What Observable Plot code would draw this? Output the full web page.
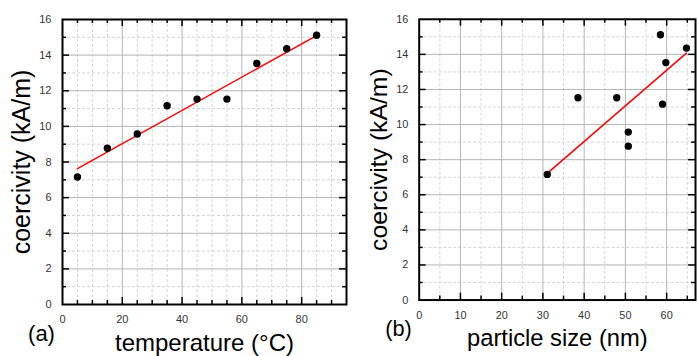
<!DOCTYPE html>
<html>
<head>
<meta charset="utf-8">
<script src="https://cdn.jsdelivr.net/npm/d3@7"></script>
<script src="https://cdn.jsdelivr.net/npm/@observablehq/plot@0.6"></script>
<style>
  html, body { margin: 0; padding: 0; background: #fff; overflow: hidden; }
  #wrap { position: relative; width: 697px; height: 356px; overflow: hidden; }
  #wrap > div { position: absolute; top: 0; }
</style>
</head>
<body>
<div id="wrap"><div id="pa" style="left:0"></div><div id="pb" style="left:349px"></div></div>
<script>
// ---- data ----
const temperature = [5, 15, 25, 35, 45, 55, 65, 75, 85];
const coercivity = [7.16, 8.77, 9.57, 11.16, 11.53, 11.53, 13.53, 14.36, 15.12];
const particleSize = [31.05, 50.7, 50.7, 59.0, 38.5, 47.9, 59.8, 64.8, 58.5];

// fitted lines (endpoints)
const fitTempX = [5, 85];
const fitTempY = [7.63, 15.1];
const fitSizeX = [31.05, 64.8];
const fitSizeY = [7.22, 14.07];

// ticks
const yMajor = [0, 2, 4, 6, 8, 10, 12, 14, 16];
const yGridMajor = [2, 4, 6, 8, 10, 12, 14];
const yMinor = [1, 3, 5, 7, 9, 11, 13, 15];
const xMajorA = [0, 20, 40, 60, 80];
const xGridMajorA = [20, 40, 60, 80];
const xMinorA = [5, 10, 15, 25, 30, 35, 45, 50, 55, 65, 70, 75, 85, 90];
const xMajorB = [0, 10, 20, 30, 40, 50, 60];
const xGridMajorB = [10, 20, 30, 40, 50, 60];
const xMinorB = [5, 15, 25, 35, 45, 55, 65];

const yLabel = "coercivity (kA/m)";
const xLabelA = "temperature (°C)";
const xLabelB = "particle size (nm)";

const FONT = "'Liberation Sans', Arial, Helvetica, sans-serif";

function panel({width, height, mL, mR, mT, mB, xDomain, xMajor, xGridMajor, xMinor, xs, fitX, fitY, xLabel, tag}) {
  const W = width - mL - mR, H = height - mT - mB;
  const pts = xs.map((x, i) => ({x, y: coercivity[i]}));
  const fit = fitX.map((x, i) => ({x, y: fitY[i]}));
  const tk = {stroke: "black", strokeWidth: 1.5};
  return Plot.plot({
    width, height,
    marginLeft: mL, marginRight: mR, marginTop: mT, marginBottom: mB,
    x: {domain: xDomain},
    y: {domain: [0, 16]},
    style: {fontFamily: FONT, fontSize: "11px", background: "transparent", overflow: "visible"},
    marks: [
      Plot.gridX(xMinor, {stroke: "#d4d4d4", strokeOpacity: 1, strokeDasharray: "3,2"}),
      Plot.gridY(yMinor, {stroke: "#d4d4d4", strokeOpacity: 1, strokeDasharray: "3,2"}),
      Plot.gridX(xGridMajor, {stroke: "#b4b4b4", strokeOpacity: 1}),
      Plot.gridY(yGridMajor, {stroke: "#b4b4b4", strokeOpacity: 1}),
      // inward ticks on all four sides
      Plot.ruleY(yMinor, {...tk, insetRight: W - 4}),
      Plot.ruleY(yGridMajor, {...tk, insetRight: W - 7}),
      Plot.ruleY(yMinor, {...tk, insetLeft: W - 4}),
      Plot.ruleY(yGridMajor, {...tk, insetLeft: W - 7}),
      Plot.ruleX(xMinor, {...tk, insetBottom: H - 4}),
      Plot.ruleX(xGridMajor, {...tk, insetBottom: H - 7}),
      Plot.ruleX(xMinor, {...tk, insetTop: H - 4}),
      Plot.ruleX(xGridMajor, {...tk, insetTop: H - 7}),
      Plot.frame({stroke: "black", strokeWidth: 2}),
      Plot.axisY({ticks: yMajor, tickSize: 0, tickPadding: 11, label: null, color: "#333", fontSize: 11}),
      Plot.axisX({ticks: xMajor, tickSize: 0, tickPadding: 11, label: null, color: "#333", fontSize: 11}),
      Plot.line(fit, {x: "x", y: "y", stroke: "#ff0000", strokeWidth: 1.5}),
      Plot.dot(pts, {x: "x", y: "y", r: 3.7, fill: "black", stroke: "none"}),
      Plot.text([yLabel], {frameAnchor: "left", textAnchor: "middle", lineAnchor: "middle", dx: -41, rotate: -90, fontSize: 25, fill: "black"}),
      Plot.text([xLabel], {frameAnchor: "bottom", textAnchor: "middle", lineAnchor: "middle", dy: 38.5, fontSize: 24, fill: "black"}),
      Plot.text([tag], {frameAnchor: "bottom-left", textAnchor: "middle", lineAnchor: "middle", dx: -21, dy: 29, fontSize: 22, fill: "black"})
    ]
  });
}

document.getElementById("pa").append(panel({
  width: 349, height: 356, mL: 62, mR: 3, mT: 19, mB: 52,
  xDomain: [0, 95], xMajor: xMajorA, xGridMajor: xGridMajorA, xMinor: xMinorA,
  xs: temperature, fitX: fitTempX, fitY: fitTempY, xLabel: xLabelA, tag: "(a)"
}));
document.getElementById("pb").append(panel({
  width: 352, height: 356, mL: 70.5, mR: 2, mT: 19, mB: 53,
  xDomain: [0, 67], xMajor: xMajorB, xGridMajor: xGridMajorB, xMinor: xMinorB,
  xs: particleSize, fitX: fitSizeX, fitY: fitSizeY, xLabel: xLabelB, tag: "(b)"
}));
</script>
</body>
</html>
